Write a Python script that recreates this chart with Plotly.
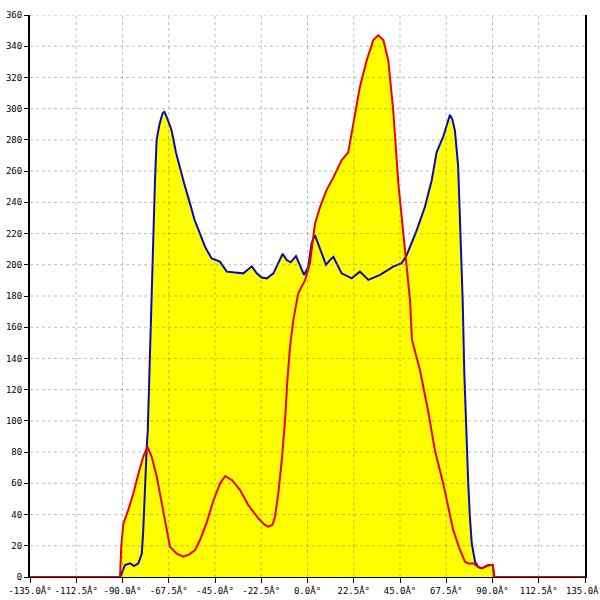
import plotly.graph_objects as go

# Blue series (degrees, value)
blue_x = [-135, -91.2, -90.4, -88.8, -86.3, -84.4, -82.3, -80.6, -79.9, -79.0, -78.2, -77.7,
          -76.5, -75.5, -74.2, -73.4, -72.0, -70.5, -69.6, -68.0, -66.1, -64.0, -62.0, -60.0,
          -57.1, -55.0, -52.3, -49.9, -46.6, -42.6, -39.3, -36.1, -31.2, -27.1, -24.7, -22.3,
          -19.8, -16.6, -14.2, -12.1, -10.1, -8.2, -5.6, -3.6, -1.7, 0.4, 2.0, 3.6, 6.9, 9.0,
          10.9, 12.6, 16.6, 21.5, 25.5, 29.6, 35.3, 41.7, 45.8, 48.2, 53.1, 57.1, 60.4, 62.8,
          66.0, 68.0, 69.3, 70.5, 71.7, 73.3, 74.2, 75.0, 75.5, 76.3, 77.4, 78.2, 79.0, 79.9,
          81.5, 83.0, 84.7, 86.5, 87.9, 90.1, 90.9, 135]
blue_y = [0, 0, 2.4, 7.7, 8.8, 7.0, 8.8, 15, 30, 62, 83.5, 94,
          150, 203, 254, 280, 290, 297, 298, 293, 286, 272, 261, 252,
          239, 229, 220, 211.6, 204, 202, 195.6, 195, 194.5, 199, 194.5, 191.8,
          191.3, 194.5, 201, 207, 203, 201.6, 205.6, 198.8, 193.5, 198.8, 213.8, 219, 208, 200,
          203, 205, 194.5, 191.3, 195.6, 190.3, 193.5, 198.8, 201, 206, 222, 237, 254, 272,
          282, 290, 296, 293, 286, 263, 230, 199, 177, 130, 81, 60, 38.6, 21.6,
          9.8, 6.5, 5.5, 6.5, 7.7, 7.7, 0, 0]

# Red series (degrees, value)
red_x = [-135, -91.2, -90.6, -89.6, -87.2, -84.7, -82.3, -79.9, -77.9, -75.8, -73.3,
         -70.9, -68.5, -66.9, -63.6, -60.4, -57.5, -54.7, -52.3, -49.0, -45.8, -42.5, -40.0,
         -36.7, -32.8, -28.8, -23.9, -21.0, -19.1, -17.0, -15.8, -14.2, -12.5, -10.9, -9.8,
         -8.5, -6.9, -4.5, -2.8, -1.2, 1.2, 3.6, 6.1, 9.3, 12.6, 16.6, 19.8, 22.3, 25.5, 28.8,
         32.0, 34.4, 36.9, 39.3, 41.7, 44.2, 46.6, 48.2, 49.9, 50.8, 54.7, 58.6, 62.0, 66.0,
         70.9, 74.2, 76.6, 78.5, 80.6, 82.5, 84.7, 86.5, 88.8, 90.1, 90.9, 135]
red_y = [0, 0, 20, 34, 43, 53.6, 66, 77, 83.5, 77, 64,
         47, 30, 19.4, 15, 13, 14.5, 17.3, 23.7, 35, 49, 60, 64.7,
         62, 55.7, 46, 37.6, 33.5, 32.2, 33.5, 38.6, 53.6, 75, 100.6, 126,
         147.5, 164.6, 181.7, 186, 190, 201, 226, 237, 248, 256, 267, 272, 290.6, 314, 331,
         344, 347, 344, 331, 299, 252, 220, 203, 177, 152, 132.6, 107, 81, 60,
         30, 17.3, 9.8, 8.5, 8.8, 7, 5.5, 6.5, 7.7, 7.7, 0, 0]

x_ticks = [-135, -112.5, -90, -67.5, -45, -22.5, 0, 22.5, 45, 67.5, 90, 112.5, 135]
x_labels = [f"{v:.1f}Â°" for v in x_ticks]
y_ticks = list(range(0, 361, 20))

FILL = "#ffff00"
BLUE = "#0a0ab4"
RED = "#ee0000"

fig = go.Figure()
fig.add_trace(go.Scatter(x=blue_x, y=blue_y, mode="lines", line=dict(width=0),
                         fill="tozeroy", fillcolor=FILL, hoverinfo="skip", showlegend=False))
fig.add_trace(go.Scatter(x=red_x, y=red_y, mode="lines", line=dict(width=0),
                         fill="tozeroy", fillcolor=FILL, hoverinfo="skip", showlegend=False))
fig.add_trace(go.Scatter(x=blue_x, y=blue_y, mode="lines", line=dict(color=BLUE, width=2),
                         showlegend=False))
fig.add_trace(go.Scatter(x=red_x, y=red_y, mode="lines", line=dict(color=RED, width=2),
                         showlegend=False))

grid_style = dict(color="rgba(110,110,110,0.45)", width=1, dash="3px,3px")
shapes = []
for v in x_ticks[1:-1]:
    shapes.append(dict(type="line", xref="x", yref="paper", x0=v, x1=v, y0=0, y1=1,
                       line=grid_style, layer="above"))
for v in y_ticks[1:]:
    shapes.append(dict(type="line", xref="paper", yref="y", x0=0, x1=1, y0=v, y1=v,
                       line=grid_style, layer="above"))

font = dict(family="DejaVu Sans Mono", size=9, color="black")
fig.update_layout(
    width=600, height=600,
    margin=dict(l=30, r=15, t=15, b=23),
    paper_bgcolor="white", plot_bgcolor="white",
    shapes=shapes,
    font=font,
    xaxis=dict(range=[-135, 135], tickvals=x_ticks, ticktext=x_labels, showgrid=False,
               zeroline=False, showline=True, linecolor="black", linewidth=1,
               ticks="outside", ticklen=5, tickcolor="black", tickfont=font,
               ticklabeloverflow="allow",
               layer="below traces", fixedrange=True, automargin=False),
    yaxis=dict(range=[0, 360], tickvals=y_ticks, showgrid=False, zeroline=False,
               showline=True, linecolor="black", linewidth=2, mirror=True,
               ticks="outside", ticklen=4, tickcolor="black", tickfont=font,
               ticklabeloverflow="allow",
               layer="below traces", fixedrange=True, automargin=False),
)

fig.write_html("out.html", config={"displayModeBar": False},
               post_script="document.body.style.margin='0';document.body.style.overflow='hidden';")
